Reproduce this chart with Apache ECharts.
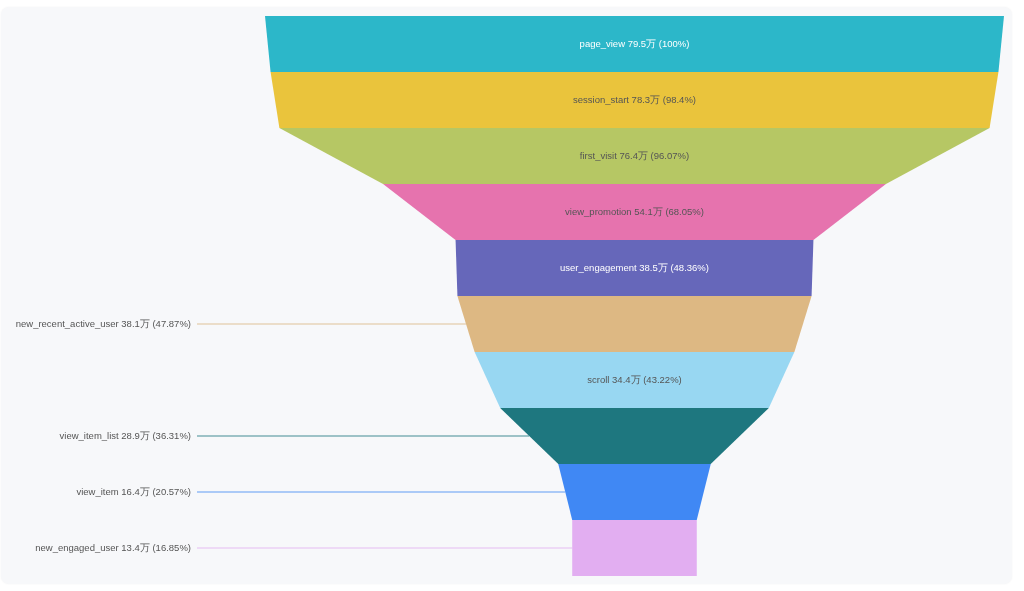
<!DOCTYPE html>
<html>
<head>
<meta charset="utf-8">
<script src="https://cdn.jsdelivr.net/npm/echarts@6/dist/echarts.min.js"></script>
<style>
  html, body { margin: 0; padding: 0; background: #ffffff; width: 1024px; height: 591px; overflow: hidden; }
  #card { position: absolute; left: 1px; top: 7px; width: 1011px; height: 577px; background: #f7f8fa; border-radius: 8px; box-shadow: 0 0 2px rgba(0,0,0,0.05); }
  #chart { position: absolute; left: 0; top: 0; width: 1024px; height: 591px; }
</style>
</head>
<body>
<div id="card"></div>
<div id="chart"></div>
<script>
const categories = ['page_view', 'session_start', 'first_visit', 'view_promotion', 'user_engagement',
  'new_recent_active_user', 'scroll', 'view_item_list', 'view_item', 'new_engaged_user'];
const values = [79.5, 78.3, 76.4, 54.1, 38.5, 38.1, 34.4, 28.9, 16.4, 13.4]; // 万
const percents = ['100', '98.4', '96.07', '68.05', '48.36', '47.87', '43.22', '36.31', '20.57', '16.85'];
const colors = ['#2cb7c9', '#eac43c', '#b6c764', '#e673ae', '#6667ba',
  '#ddb883', '#98d7f2', '#1e777f', '#4088f4', '#e2aef1'];
const labelSides = ['inside', 'inside', 'inside', 'inside', 'inside', 'left', 'inside', 'left', 'left', 'left'];
const labelColors = ['#ffffff', '#555555', '#555555', '#555555', '#ffffff', '#555555', '#555555', '#555555', '#555555', '#555555'];

const data = categories.map((name, i) => ({
  name: name,
  value: values[i],
  pct: percents[i],
  itemStyle: { color: colors[i] },
  label: { position: labelSides[i], color: labelColors[i] },
  labelLine: { show: labelSides[i] === 'left', lineStyle: { color: colors[i], opacity: 0.55, width: 1.5 } }
}));
// invisible closing item so the last layer is drawn as a rectangle
data.push({
  name: '__end__',
  value: values[values.length - 1],
  itemStyle: { opacity: 0 },
  label: { show: false },
  labelLine: { show: false },
  emphasis: { disabled: true }
});

const chart = echarts.init(document.getElementById('chart'), null, { renderer: 'canvas' });
chart.setOption({
  animation: false,
  backgroundColor: 'transparent',
  series: [{
    type: 'funnel',
    left: 265,
    top: 16,
    width: 739,
    height: 616,
    min: 0,
    minSize: '0%',
    maxSize: '100%',
    sort: 'none',
    gap: 0,
    silent: true,
    itemStyle: { borderWidth: 0 },
    label: {
      show: true,
      fontFamily: 'Liberation Sans, Arial, sans-serif',
      fontSize: 9.5,
      formatter: function (p) {
        return p.name + ' ' + p.value + '万 (' + p.data.pct + '%)';
      }
    },
    labelLine: { length: 20 },
    labelLayout: function (p) {
      if (labelSides[p.dataIndex] !== 'left' || !p.labelLinePoints) return {};
      const pts = p.labelLinePoints;
      const y = pts[0][1];
      return {
        x: 191,
        y: y,
        align: 'right',
        verticalAlign: 'middle',
        labelLinePoints: [[pts[0][0], y], [197, y]]
      };
    },
    data: data
  }]
});
</script>
</body>
</html>
